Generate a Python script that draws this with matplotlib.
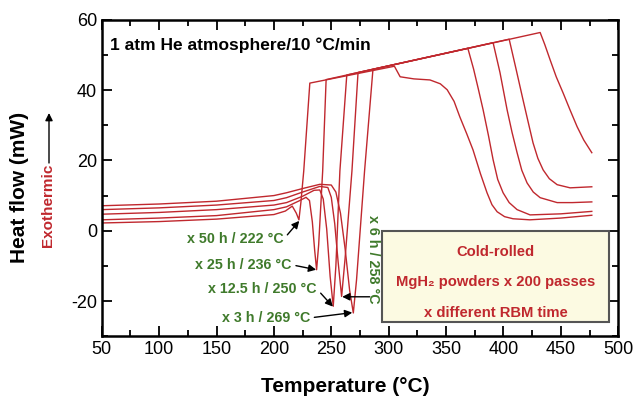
import matplotlib
matplotlib.use("Agg")
import matplotlib.pyplot as plt
from matplotlib.patches import Rectangle
from matplotlib.ticker import MultipleLocator

plt.rcParams['font.family'] = ['Liberation Sans', 'DejaVu Sans']
plt.rcParams['axes.unicode_minus'] = False

# DSC traces: temperature (C) and heat flow (mW)
t_50h = [50, 100, 150, 200, 210, 216, 219.5, 221.8, 223.5, 226, 231.3, 305, 310, 322, 336, 345,
         351, 357, 362, 368, 373.5, 380, 385.7, 390, 394.5, 401, 408.4, 423, 450, 477]
q_50h = [2.2, 2.6, 3.3, 4.6, 5.6, 7.0, 5.0, 3.1, 8.0, 17.0, 42.0, 46.8, 43.8, 43.2, 42.9, 41.8,
         40.1, 36.8, 32.4, 27.6, 23.0, 16.2, 10.8, 7.4, 5.4, 4.0, 3.4, 3.1, 3.6, 4.4]

t_25h = [50, 100, 150, 200, 211, 222, 228, 231, 233.5, 235.5, 237.2, 239, 242.5, 245.5, 369, 374,
         378, 382.3, 387, 391, 395, 399.7, 405, 411.9, 423.2, 450, 477]
q_25h = [3.1, 3.6, 4.3, 6.0, 6.8, 8.5, 9.5, 8.6, 2.5, -5.5, -11.1, -4.0, 17.0, 43.0, 51.9, 46.0,
         40.5, 34.4, 27.0, 20.2, 14.6, 10.8, 8.0, 6.0, 4.5, 4.8, 5.5]

t_12h = [50, 100, 150, 200, 211, 225, 235, 240, 243, 246, 249, 251.7, 254, 257.5, 263.5, 391, 397,
         403.2, 407.5, 411.9, 416, 420.6, 426, 432, 446.8, 460, 477]
q_12h = [4.7, 5.2, 6.0, 7.3, 8.0, 9.8, 11.5, 11.6, 9.0, 0.5, -13.0, -21.5, -10.0, 17.0, 44.3, 53.5,
         45.0, 34.4, 28.0, 22.2, 17.2, 13.6, 11.0, 9.4, 8.0, 8.0, 8.2]

t_6h = [50, 100, 150, 200, 211, 225, 240, 247, 250, 253, 256, 259, 262, 268, 273.3, 405, 411,
        417.1, 421.5, 425.8, 430, 434.6, 440, 446.8, 458.1, 477]
q_6h = [6.0, 6.5, 7.3, 8.6, 9.4, 11.0, 12.6, 12.3, 9.5, 2.0, -9.0, -18.7, -8.0, 17.0, 45.0, 54.5,
        46.0, 37.2, 31.0, 25.0, 20.6, 17.3, 14.8, 13.1, 12.2, 12.5]

t_3h = [50, 100, 150, 200, 211, 225, 240, 250, 254, 258, 262, 266, 269.2, 272, 279, 286.3, 432,
        436, 440.7, 446, 452, 458, 464.2, 470, 477]
q_3h = [7.1, 7.6, 8.4, 10.0, 10.8, 12.0, 13.2, 13.0, 11.0, 5.0, -5.0, -17.0, -23.4, -14.0, 17.0,
        45.9, 56.4, 53.0, 48.6, 43.8, 39.2, 34.4, 29.6, 25.8, 22.2]

curves = [(t_50h, q_50h), (t_25h, q_25h), (t_12h, q_12h), (t_6h, q_6h), (t_3h, q_3h)]

# peak labels: text, text position, arrow head
peak_labels = ['x 50 h / 222 °C', 'x 25 h / 236 °C', 'x 12.5 h / 250 °C', 'x 3 h / 269 °C']
label_pos = [(208.5, -2.4), (215.6, -9.7), (237.5, -16.6), (231.6, -24.8)]
peak_pos = [(222.1, 2.8), (236.8, -11.1), (251.4, -21.6), (268.3, -23.3)]
label_6h = 'x 6 h / 258 °C'

box_lines = ['Cold-rolled', 'MgH₂ powders x 200 passes', 'x different RBM time']

RED = '#c0282e'
GREEN = '#3f7a2b'

fig = plt.figure(figsize=(6.36, 4.05), dpi=100)
ax = fig.add_axes([0.160, 0.170, 0.812, 0.781])

for t, q in curves:
    ax.plot(t, q, color=RED, lw=1.0)

ax.set_xlim(50, 500)
ax.set_ylim(-30, 60)
ax.xaxis.set_major_locator(MultipleLocator(50))
ax.xaxis.set_minor_locator(MultipleLocator(25))
ax.yaxis.set_major_locator(MultipleLocator(20))
ax.yaxis.set_minor_locator(MultipleLocator(10))
ax.tick_params(which='both', direction='in', top=True, right=True, width=1.3, labelsize=13)
ax.tick_params(which='major', length=7)
ax.tick_params(which='minor', length=4)
for s in ax.spines.values():
    s.set_linewidth(1.8)

ax.text(0.016, 0.921, '1 atm He atmosphere/10 °C/min', transform=ax.transAxes,
        fontsize=12.5, fontweight='bold', va='center', ha='left')

# peak annotations
for lab, p, h in zip(peak_labels, label_pos, peak_pos):
    ax.annotate(lab, xy=h, xytext=p, ha='right', va='center', color=GREEN,
                fontsize=10.3, fontweight='bold',
                arrowprops=dict(arrowstyle='-|>', color='k', lw=1.0, mutation_scale=11,
                                shrinkA=1, shrinkB=0, relpos=(1.0, 0.5)))
ax.text(286.5, -8.0, label_6h, rotation=-90, ha='center', va='center', color=GREEN,
        fontsize=10.3, fontweight='bold')
ax.annotate('', xy=(259.5, -18.8), xytext=(283.5, -18.8),
            arrowprops=dict(arrowstyle='-|>', color='k', lw=1.0, mutation_scale=11,
                            shrinkA=0, shrinkB=0))

# sample box
ax.add_patch(Rectangle((0.543, 0.044), 0.440, 0.288, transform=ax.transAxes,
                       facecolor='#fcfae2', edgecolor='#555555', lw=1.5, zorder=3))
for line, y in zip(box_lines, [0.266, 0.171, 0.072]):
    ax.text(0.763, y, line, transform=ax.transAxes, ha='center', va='center',
            color=RED, fontsize=10.6, fontweight='bold', zorder=4)

# axis labels
fig.text(345 / 636, 1 - 386 / 405, 'Temperature (°C)', ha='center', va='center',
         fontsize=15, fontweight='bold')
fig.text(20 / 636, 1 - 187 / 405, 'Heat flow (mW)', rotation=90, ha='center', va='center',
         fontsize=15, fontweight='bold')
fig.text(48 / 636, 1 - 205 / 405, 'Exothermic', rotation=90, ha='center', va='center',
         fontsize=11, fontweight='bold', color=RED)
ax.annotate('', xy=(49 / 636, 1 - 113 / 405), xytext=(49 / 636, 1 - 163 / 405),
            xycoords='figure fraction', textcoords='figure fraction',
            arrowprops=dict(arrowstyle='-|>', color='k', lw=1.0, mutation_scale=11,
                            shrinkA=0, shrinkB=0))

fig.savefig('out.png', dpi=100)
